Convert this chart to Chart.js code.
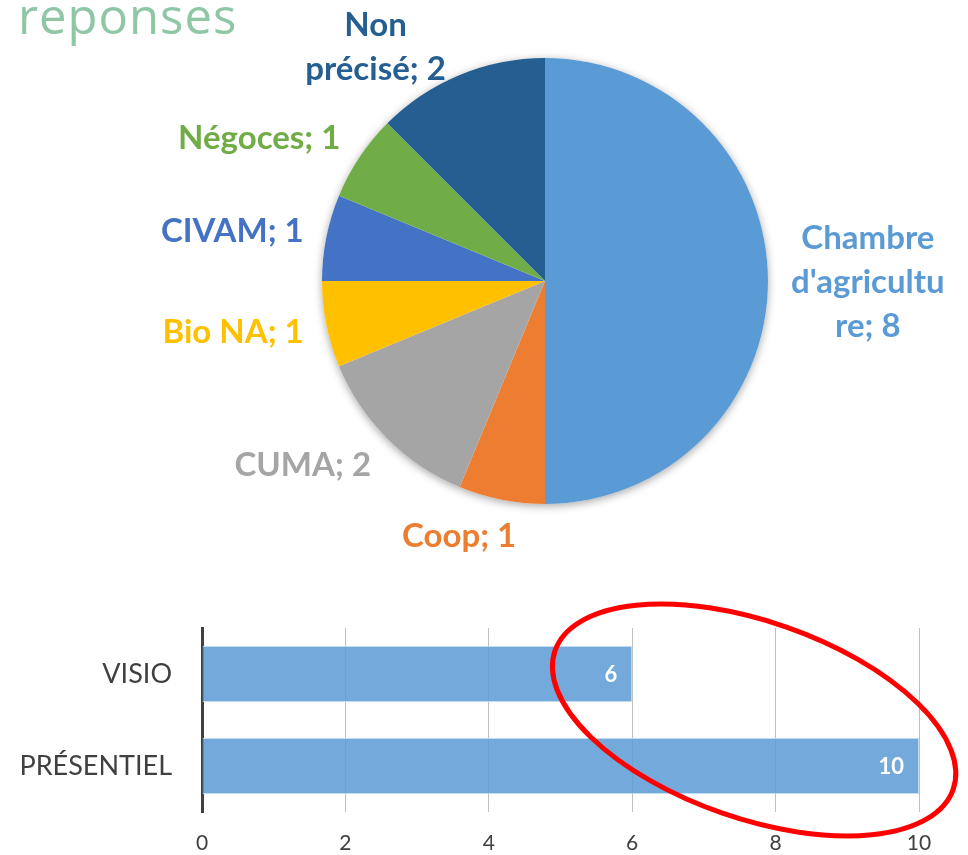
<!DOCTYPE html>
<html>
<head>
<meta charset="utf-8">
<script src="https://cdn.jsdelivr.net/npm/chart.js@4/dist/chart.umd.min.js"></script>
<style>
  html, body { margin: 0; padding: 0; background: #fff; }
  body { width: 968px; height: 855px; position: relative; overflow: hidden; }
  #titre { position: absolute; left: 18px; top: -10px; font: 500 49px "Open Sans", sans-serif; color: #8FC6A6;
           letter-spacing: 1px; line-height: 50px; white-space: nowrap; }
  #camembert { position: absolute; left: 0; top: 0; width: 968px; height: 595px; }
  #barres { position: absolute; left: 0; top: 595px; width: 968px; height: 260px; }
</style>
</head>
<body>
<div id="titre">reponses</div>
<div id="camembert"><canvas id="pieChart"></canvas></div>
<div id="barres"><canvas id="barChart"></canvas></div>
<script>
// camembert
const categoriesCamembert = ["Chambre d'agriculture", "Coop", "CUMA", "Bio NA", "CIVAM", "Négoces", "Non précisé"];
const valeursCamembert = [8, 1, 2, 1, 1, 1, 2];
const couleursCamembert = ['#5B9BD5', '#ED7D31', '#A5A5A5', '#FFC000', '#4472C4', '#70AD47', '#255E91'];

// barres
const categoriesBarres = ["VISIO", "PRÉSENTIEL"];
const valeursBarres = [6, 10];
const ticksBarres = [0, 2, 4, 6, 8, 10];

// coupe le texte comme Excel (nb de caracteres max par ligne)
function couper(texte, max) {
  const lignes = [];
  let ligne = '';
  for (let mot of texte.split(' ')) {
    const essai = ligne ? ligne + ' ' + mot : mot;
    if (essai.length <= max) { ligne = essai; continue; }
    if (ligne) lignes.push(ligne);
    while (mot.length > max) { lignes.push(mot.slice(0, max)); mot = mot.slice(max); }
    ligne = mot;
  }
  if (ligne) lignes.push(ligne);
  return lignes;
}

const ombre = {
  id: 'ombre',
  beforeDatasetsDraw(chart) {
    const arc = chart.getDatasetMeta(0).data[0];
    if (!arc) return;
    const ctx = chart.ctx;
    ctx.save();
    ctx.shadowColor = 'rgba(0,0,0,0.35)';
    ctx.shadowBlur = 9;
    ctx.shadowOffsetY = 2;
    ctx.fillStyle = '#fff';
    ctx.beginPath();
    ctx.arc(arc.x, arc.y, arc.outerRadius, 0, Math.PI * 2);
    ctx.fill();
    ctx.restore();
  }
};

const etiquettesCamembert = {
  id: 'etiquettesCamembert',
  afterDatasetsDraw(chart) {
    const ctx = chart.ctx;
    const hl = 44;
    const ecart = 23;
    ctx.save();
    ctx.font = 'bold 33px Lato';
    ctx.textAlign = 'center';
    ctx.textBaseline = 'middle';
    chart.getDatasetMeta(0).data.forEach((arc, i) => {
      const { x, y, startAngle, endAngle, outerRadius: r } =
        arc.getProps(['x', 'y', 'startAngle', 'endAngle', 'outerRadius'], true);
      const m = (startAngle + endAngle) / 2;
      const dx = Math.cos(m), dy = Math.sin(m);
      const lignes = couper(categoriesCamembert[i] + '; ' + valeursCamembert[i], 11);
      const w = Math.max(...lignes.map(l => ctx.measureText(l).width));
      const h = lignes.length * hl;
      let cx = x + dx * (r + ecart) + Math.sign(dx) * Math.min(1, 3.4 * Math.abs(dx)) * w / 2;
      let cy = y + dy * (r + ecart + 0.6 * h / 2);
      cy = Math.max(cy, h / 2 + 2);
      // si l'etiquette touche le camembert on la pousse de cote
      const touche = () => {
        const px = Math.min(Math.max(x, cx - w / 2), cx + w / 2);
        const py = Math.min(Math.max(y, cy - h / 2), cy + h / 2);
        return Math.hypot(px - x, py - y) < r - 8;
      };
      let n = 0;
      while (touche() && n++ < 400) cx += dx < 0 ? -1 : 1;
      ctx.fillStyle = couleursCamembert[i];
      lignes.forEach((l, k) => ctx.fillText(l, cx, cy - h / 2 + hl / 2 + k * hl + 1));
    });
    ctx.restore();
  }
};

new Chart(document.getElementById('pieChart'), {
  type: 'pie',
  data: {
    labels: categoriesCamembert,
    datasets: [{ data: valeursCamembert, backgroundColor: couleursCamembert, borderWidth: 0 }]
  },
  options: {
    responsive: true,
    maintainAspectRatio: false,
    animation: false,
    layout: { padding: { top: 58, bottom: 91, left: 322, right: 200 } },
    plugins: { legend: { display: false }, tooltip: { enabled: false } }
  },
  plugins: [ombre, etiquettesCamembert]
});

const etiquettesBarres = {
  id: 'etiquettesBarres',
  afterDatasetsDraw(chart) {
    const ctx = chart.ctx;
    ctx.save();
    ctx.font = 'bold 22px Lato';
    ctx.fillStyle = '#fff';
    ctx.textAlign = 'right';
    ctx.textBaseline = 'middle';
    chart.getDatasetMeta(0).data.forEach((b, i) => ctx.fillText(valeursBarres[i], b.x - 15, b.y + 1));
    ctx.restore();
  }
};

// cercle rouge dessine a la main sur la diapo
const ellipse = {
  id: 'ellipse',
  afterDraw(chart) {
    const xs = chart.scales.x, ys = chart.scales.y;
    const unite = xs.getPixelForValue(1) - xs.getPixelForValue(0);
    const bande = ys.getPixelForValue(1) - ys.getPixelForValue(0);
    const cx = xs.getPixelForValue(7.7);
    const cy = (ys.getPixelForValue(0) + ys.getPixelForValue(1)) / 2;
    const ctx = chart.ctx;
    ctx.save();
    ctx.strokeStyle = '#FF0000';
    ctx.lineWidth = 5;
    ctx.beginPath();
    ctx.ellipse(cx, cy, 2.94 * unite, 1.07 * bande, 19.2 * Math.PI / 180, 0, Math.PI * 2);
    ctx.stroke();
    ctx.restore();
  }
};

new Chart(document.getElementById('barChart'), {
  type: 'bar',
  data: {
    labels: categoriesBarres,
    datasets: [{
      data: valeursBarres,
      backgroundColor: 'rgba(91,155,213,0.85)',
      borderColor: 'rgba(189,215,238,0.9)',
      borderWidth: 1,
      barPercentage: 0.61,
      categoryPercentage: 1
    }]
  },
  options: {
    indexAxis: 'y',
    responsive: true,
    maintainAspectRatio: false,
    animation: false,
    layout: { padding: { top: 33, right: 49, left: 0, bottom: 0 } },
    scales: {
      x: {
        min: 0, max: 10,
        afterBuildTicks: s => { s.ticks = ticksBarres.map(v => ({ value: v })); },
        grid: { color: '#BFBFBF', lineWidth: 1, drawTicks: false },
        border: { display: false },
        ticks: { padding: 19, color: '#404040', font: { family: 'Lato', size: 21 } },
        afterFit: s => { s.height = 43; }
      },
      y: {
        z: 1,
        grid: { display: false, drawTicks: false },
        border: { display: true, color: '#404040', width: 3 },
        ticks: { padding: 30, color: '#404040', font: { family: 'Lato', size: 27 } },
        afterFit: s => { s.width = 202; s.paddingTop = 0; s.paddingBottom = 0; }
      }
    },
    plugins: { legend: { display: false }, tooltip: { enabled: false } }
  },
  plugins: [etiquettesBarres, ellipse]
});
</script>
</body>
</html>
